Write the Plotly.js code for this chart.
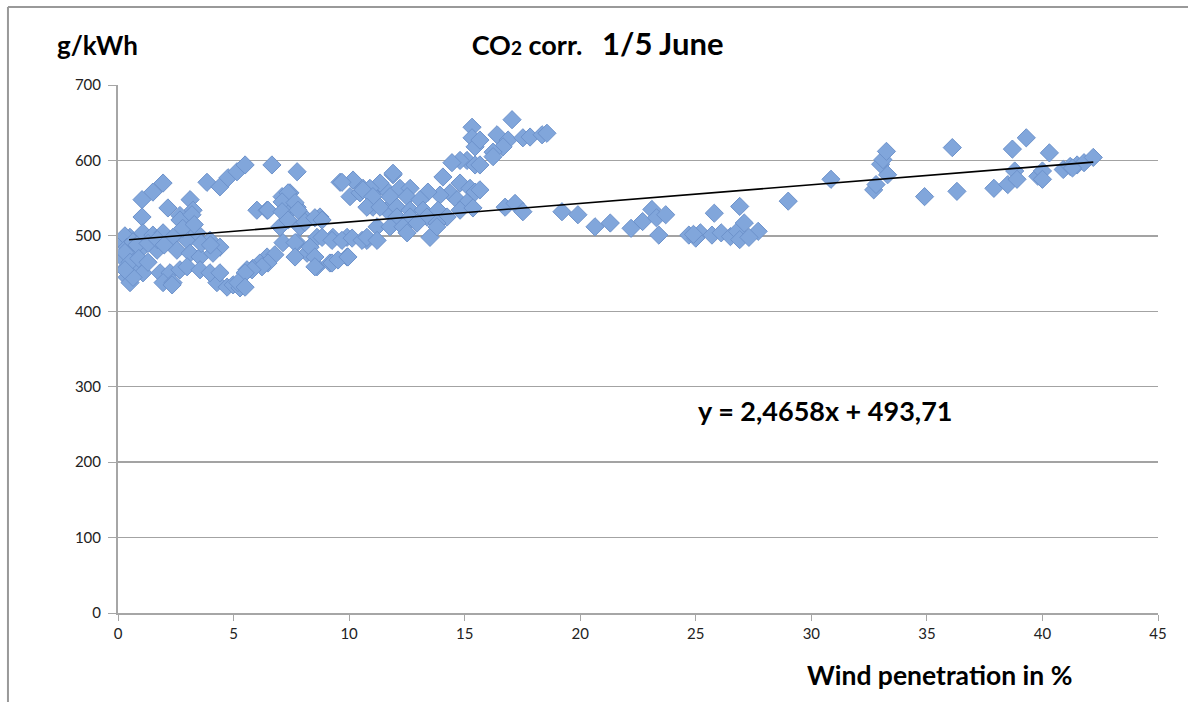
<!DOCTYPE html>
<html><head><meta charset="utf-8">
<script src="https://cdn.plot.ly/plotly-3.0.1.min.js"></script>
<style>html,body{margin:0;padding:0;background:#fff}#chart{width:1188px;height:702px}</style>
</head><body><div id="chart"></div>
<script>
// Wind penetration (%) values
const windPct = [
 1.04,1.51,1.95,1.04,2.16,3.85,4.41,4.76,5.15,5.50,6.66,7.75,
 3.12,2.68,3.25,2.68,3.20,
 0.52,1.08,1.51,1.95,2.38,2.99,3.42,3.98,4.41,
 0.52,0.95,1.69,2.55,3.12,3.55,4.11,
 0.39,0.82,0.39,0.65,1.08,1.82,2.25,2.68,2.99,3.55,
 1.95,2.38,4.28,4.72,3.98,4.41,0.52,4.98,5.28,2.34,
 0.22,0.30,0.39,0.22,0.30,0.65,0.82,0.52,0.65,1.30,1.70,2.00,2.80,3.30,3.60,4.00,0.90,1.30,0.30,
 6.01,6.45,7.10,7.44,7.75,7.31,7.01,7.88,8.18,8.74,8.61,9.30,9.91,10.77,
 7.14,7.75,8.18,8.61,9.17,9.91,6.45,6.14,5.84,5.58,
 9.61,10.17,10.60,11.03,11.47,11.90,11.03,11.64,12.07,
 9.69,10.04,10.47,7.36,7.10,7.66,6.49,7.10,7.79,7.36,8.09,8.52,8.83,
 7.66,8.31,8.83,9.26,9.69,10.13,10.56,
 7.66,6.79,6.49,6.23,5.80,5.50,8.52,8.52,9.26,9.52,9.95,5.19,5.50,
 15.32,15.32,15.45,15.10,15.45,14.80,14.45,14.06,14.80,15.23,15.45,14.37,13.93,13.41,14.67,15.10,14.80,15.36,
 11.90,11.34,12.20,12.64,10.90,10.60,11.03,11.77,12.51,13.07,10.77,11.34,12.07,12.64,13.20,13.85,12.07,12.64,13.37,14.24,11.21,11.77,12.33,12.94,13.80,10.77,11.21,12.51,13.50,13.80,
 17.05,16.40,16.88,16.66,16.23,16.23,17.52,17.83,18.35,18.56,15.66,15.66,15.66,16.75,17.18,17.52,19.21,19.90,20.64,
 21.3,22.2,22.7,23.1,23.3,23.4,23.7,24.7,25.2,25.7,25.8,26.1,26.5,26.8,26.9,27.1,27.7,26.9,25.0,27.3,24.9,
 29.0,30.85,32.7,32.8,33.0,33.1,33.25,33.3,34.9,36.1,36.3,37.9,38.5,38.7,38.8,38.9,39.3,39.8,40.0,40.3,40.0,40.9,41.2,41.5,41.8,42.2,41.3
];
// CO2 intensity (g/kWh) values
const co2 = [
 548,558,570,525,537,571,565,577,585,594,594,585,
 548,527,534,521,528,
 498,504,501,504,498,494,504,494,485,
 477,481,481,481,477,472,477,
 459,459,445,455,451,451,451,455,459,455,
 438,438,438,432,451,451,438,435,431,435,
 490,500,485,470,478,492,488,465,445,490,495,488,510,515,490,488,470,465,455,
 534,534,552,557,538,530,512,512,521,525,498,498,498,494,
 491,491,477,459,464,472,472,464,457,455,
 571,574,563,557,565,581,538,534,525,
 571,552,557,557,545,544,534,532,534,521,518,524,521,
 491,485,498,494,494,497,494,
 472,475,464,459,455,451,472,459,464,468,472,438,432,
 644,630,618,600,594,600,597,578,570,563,558,557,554,558,548,544,534,537,
 583,570,563,563,563,561,552,552,552,548,538,538,538,534,534,534,525,525,525,525,512,512,512,517,517,498,494,504,498,512,
 654,634,627,618,611,605,630,631,634,636,627,594,561,538,543,532,532,528,512,
 517,510,519,535,524,501,528,501,504,501,530,504,499,506,539,517,506,495,497,498,502,
 546,575,561,568,595,601,612,581,552,617,559,563,568,615,586,575,630,579,586,610,575,588,592,594,597,604,590
];
// Linear trend given on the chart: y = 2,4658x + 493,71
const trendSlope = 2.4658;
const trendIntercept = 493.71;
const trendX = [0.48, 42.2];
const xTicks = [0,5,10,15,20,25,30,35,40,45];
const yTicks = [0,100,200,300,400,500,600,700];

const trendY = trendX.map(v => trendSlope*v + trendIntercept);

const FONT = 'Lato, "Open Sans", "DejaVu Sans", sans-serif';
const traces = [
 {type:'scatter', mode:'markers', x:windPct, y:co2, showlegend:false, hoverinfo:'x+y',
  marker:{symbol:'diamond', size:14, color:'#81a6db', line:{color:'#6d92cb', width:1}}},
 {type:'scatter', mode:'lines', x:trendX, y:trendY, showlegend:false,
  line:{color:'#000', width:1.6}}
];
const layout = {
 width:1188, height:702,
 margin:{l:118, r:30, t:85, b:89, pad:0},
 paper_bgcolor:'#fff', plot_bgcolor:'#fff',
 font:{family:FONT, size:15, color:'#222'},
 title:{text:'CO<span style="font-size:19px">2</span> corr.   <span style="font-size:31px">1/5 June</span>',
   font:{family:FONT, size:27, color:'#000', weight:'bold'},
   xref:'container', yref:'container', x:0.503, xanchor:'center', y:0.935, yanchor:'middle'},
 xaxis:{range:[0,45], tickvals:xTicks, ticktext:xTicks.map(String), showgrid:false, zeroline:false,
   showline:true, linecolor:'#a6a6a6', linewidth:2, ticks:'outside', ticklen:6, tickcolor:'#a6a6a6', tickwidth:1,
   tickfont:{family:FONT, size:15, color:'#222'}, fixedrange:true},
 yaxis:{range:[0,700], tickvals:yTicks, ticktext:yTicks.map(String), showgrid:true, gridcolor:'#a3a3a3', gridwidth:1.5,
   zeroline:false, showline:true, linecolor:'#a6a6a6', linewidth:2, ticks:'outside', ticklen:8, tickcolor:'#a6a6a6',
   ticklabelstandoff:4, tickfont:{family:FONT, size:15, color:'#222'}, fixedrange:true},
 shapes:[
  {type:'line', xref:'paper', yref:'paper', x0:-0.1058, x1:1.03, y0:1.1477, y1:1.1477, line:{color:'#999', width:2}},
  {type:'line', xref:'paper', yref:'paper', x0:-0.1058, x1:-0.1058, y0:1.1477, y1:-0.17, line:{color:'#999', width:2}}
 ],
 annotations:[
  {text:'<b>g/kWh</b>', xref:'paper', yref:'paper', x:(55-118)/1040, xanchor:'left', y:(613-45)/528, yanchor:'middle',
   showarrow:false, font:{family:FONT, size:26, color:'#000'}},
  {text:'<b>Wind penetration in %</b>', xref:'paper', yref:'paper', x:(1074-118)/1040, xanchor:'right', y:(613-675)/528, yanchor:'middle',
   showarrow:false, font:{family:FONT, size:26.5, color:'#000'}},
  {text:'<b>y = 2,4658x + 493,71</b>', xref:'paper', yref:'paper', x:(696-118)/1040, xanchor:'left', y:(613-410)/528, yanchor:'middle',
   showarrow:false, font:{family:FONT, size:27, color:'#000'}}
 ]
};
Plotly.newPlot('chart', traces, layout, {displayModeBar:false, staticPlot:true});
</script></body></html>
